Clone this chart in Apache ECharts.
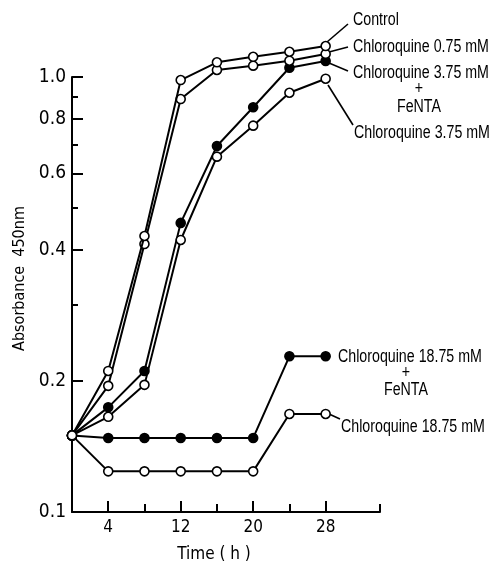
<!DOCTYPE html>
<html><head><meta charset="utf-8">
<script src="https://cdn.jsdelivr.net/npm/echarts@6/dist/echarts.min.js"></script>
<style>html,body{margin:0;padding:0;background:#fff}#c{width:491px;height:565px}</style>
</head><body><div id="c"></div>
<script>
const times = [0, 4, 8, 12, 16, 20, 24, 28];
const control = [0.15, 0.211, 0.431, 0.984, 1.081, 1.113, 1.143, 1.178];
const chloro075 = [0.15, 0.195, 0.413, 0.890, 1.038, 1.062, 1.090, 1.130];
const chloro375Fe = [0.15, 0.174, 0.211, 0.462, 0.694, 0.852, 1.050, 1.088];
const chloro375 = [0.15, 0.1655, 0.196, 0.422, 0.656, 0.773, 0.920, 0.991];
const chloro1875Fe = [0.15, 0.148, 0.148, 0.148, 0.148, 0.148, 0.228, 0.228];
const chloro1875 = [0.15, 0.124, 0.124, 0.124, 0.124, 0.124, 0.168, 0.168];
const yLabelTicks = [0.1, 0.2, 0.4, 0.6, 0.8, 1.0];
const yMinorTicks = [0.3, 0.5, 0.7, 0.9];
const xLabelTicks = [4, 12, 20, 28];
const xMinorTicks = [8, 16, 24, 34];

const FONT = '"DejaVu Sans Condensed","Liberation Sans",sans-serif';
const AFONT = '"Liberation Sans",Arial,sans-serif';
const pairs = arr => times.map((t, i) => [t, arr[i]]);

function mkSeries(name, arr, filled, z) {
  return {
    name, type: 'line', data: pairs(arr), clip: false, z,
    symbol: 'circle', symbolSize: 9,
    lineStyle: { color: '#000', width: 2 },
    itemStyle: { color: filled ? '#000' : '#fff', borderColor: '#000', borderWidth: 1.6 },
    emphasis: { disabled: true }, animation: false
  };
}

const chart = echarts.init(document.getElementById('c'));
const baseY = { type: 'log', logBase: 10, min: 0.1, max: 1.0, position: 'left', splitLine: { show: false } };
const baseX = { type: 'value', min: 0, max: 34, position: 'bottom', splitLine: { show: false } };
chart.setOption({
  backgroundColor: '#fff',
  animation: false,
  grid: { left: 72, right: 111, top: 77, bottom: 53, outerBoundsMode: 'none' },
  xAxis: [
    Object.assign({}, baseX, {
      axisLine: { lineStyle: { color: '#000', width: 2 } },
      axisTick: { inside: true, length: 11, lineStyle: { color: '#000', width: 2 }, customValues: xLabelTicks },
      axisLabel: { customValues: xLabelTicks, color: '#000', fontFamily: FONT, fontSize: 17, margin: 7 },
      name: 'Time ( h )', nameLocation: 'middle', nameGap: 34,
      nameTextStyle: { color: '#000', fontFamily: FONT, fontSize: 17, padding: [0, 24, 0, 0] }
    }),
    Object.assign({}, baseX, {
      axisLine: { show: false },
      axisTick: { inside: true, length: 8, lineStyle: { color: '#000', width: 2 }, customValues: xMinorTicks },
      axisLabel: { show: false }
    })
  ],
  yAxis: [
    Object.assign({}, baseY, {
      axisLine: { lineStyle: { color: '#000', width: 2 } },
      axisTick: { inside: true, length: 11, lineStyle: { color: '#000', width: 2 }, customValues: yLabelTicks },
      axisLabel: { customValues: yLabelTicks, color: '#000', fontFamily: FONT, fontSize: 19, margin: 6,
        formatter: v => Number(v).toFixed(1) },
      name: 'Absorbance  450nm', nameLocation: 'middle', nameGap: 44, nameRotate: 90,
      nameTextStyle: { color: '#000', fontFamily: FONT, fontSize: 16, padding: [0, 0, 0, 32] }
    }),
    Object.assign({}, baseY, {
      axisLine: { show: false },
      axisTick: { inside: true, length: 6, lineStyle: { color: '#000', width: 2 }, customValues: yMinorTicks },
      axisLabel: { show: false }
    })
  ],
  series: [
    mkSeries('Chloroquine 18.75 mM + FeNTA', chloro1875Fe, true, 2),
    mkSeries('Chloroquine 3.75 mM + FeNTA', chloro375Fe, true, 2),
    mkSeries('Chloroquine 18.75 mM', chloro1875, false, 3),
    mkSeries('Chloroquine 3.75 mM', chloro375, false, 3),
    mkSeries('Chloroquine 0.75 mM', chloro075, false, 3),
    mkSeries('Control', control, false, 4)
  ]
});

const txt = (text, x, y, align) => ({ type: 'text', silent: true, x, y, scaleX: 0.79,
  style: { text, x: 0, y: 0, fill: '#000', font: '18px ' + AFONT, textAlign: align || 'left', textVerticalAlign: 'middle' } });
const ln = (x1, y1, x2, y2) => ({ type: 'line', silent: true,
  shape: { x1, y1, x2, y2 }, style: { stroke: '#000', lineWidth: 1.6 } });

chart.setOption({
  graphic: [
    txt('Control', 353, 20),
    ln(327, 42, 348, 24),
    txt('Chloroquine 0.75 mM', 353, 47),
    ln(329, 52, 348, 47),
    txt('Chloroquine 3.75 mM', 353, 73),
    ln(329, 63, 348, 71),
    txt('+', 419, 89, 'center'),
    txt('FeNTA', 419, 107, 'center'),
    txt('Chloroquine 3.75 mM', 354, 133),
    ln(328, 85, 353, 125),
    txt('Chloroquine 18.75 mM', 338, 357),
    txt('+', 406, 373, 'center'),
    txt('FeNTA', 406, 390, 'center'),
    txt('Chloroquine 18.75 mM', 341, 427),
    ln(329, 414, 340, 419)
  ]
});
</script></body></html>
